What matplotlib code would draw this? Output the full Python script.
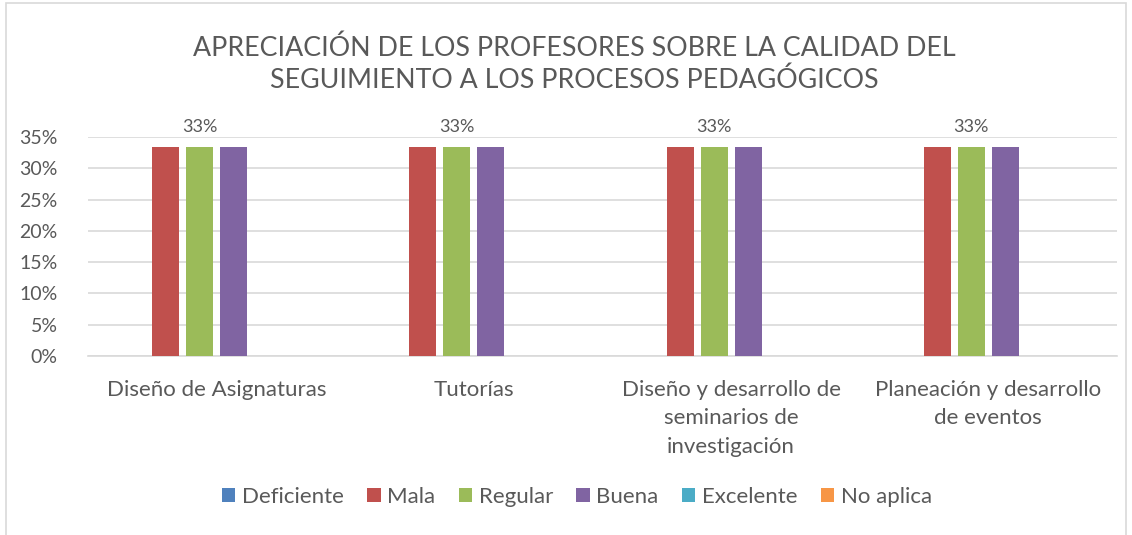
import matplotlib.pyplot as plt
import numpy as np
from matplotlib.patches import Rectangle

# datos
categorias = ["Diseño de Asignaturas", "Tutorías",
              "Diseño y desarrollo de\nseminarios de\ninvestigación",
              "Planeación y desarrollo\nde eventos"]
series = ["Deficiente", "Mala", "Regular", "Buena", "Excelente", "No aplica"]
deficiente = [0, 0, 0, 0]
mala = [1/3, 1/3, 1/3, 1/3]
regular = [1/3, 1/3, 1/3, 1/3]
buena = [1/3, 1/3, 1/3, 1/3]
excelente = [0, 0, 0, 0]
no_aplica = [0, 0, 0, 0]
yticks = [0, 0.05, 0.10, 0.15, 0.20, 0.25, 0.30, 0.35]

valores = [deficiente, mala, regular, buena, excelente, no_aplica]
colores = ['#4F81BD', '#C0504D', '#9BBB59', '#8064A2', '#4BACC6', '#F79646']

plt.rcParams['font.family'] = ['Lato', 'DejaVu Sans']
gris = '#595959'

fig = plt.figure(figsize=(11.32, 5.35), dpi=100)
ax = fig.add_axes([88/1132, 1 - 356/535, 1029/1132, 219/535])

x = np.arange(len(categorias))
paso = 34 / 257
ancho = 27 / 257
for i, (nombre, vals) in enumerate(zip(series, valores)):
    pos = x + (i - 2.5) * paso
    ax.bar(pos, vals, width=ancho, color=colores[i], label=nombre, zorder=3)
    # etiqueta solo en la serie central
    if nombre == "Regular":
        for p, v in zip(pos, vals):
            ax.text(p, v + 0.02, f"{v:.0%}", ha='center', va='bottom',
                    fontsize=13, color=gris)

ax.set_xlim(-0.5, len(categorias) - 0.5)
ax.set_ylim(0, 0.35)
ax.set_yticks(yticks)
ax.set_yticklabels([f"{t:.0%}" for t in yticks])
ax.yaxis.grid(True, color='#D9D9D9', linewidth=1.2, zorder=0)
ax.set_xticks(x)
ax.set_xticklabels(categorias, linespacing=1.55)
ax.tick_params(axis='y', length=0, labelsize=14, colors=gris, pad=22)
ax.tick_params(axis='x', length=0, labelsize=16, colors=gris, pad=17)
for s in ['top', 'right', 'left']:
    ax.spines[s].set_visible(False)
ax.spines['bottom'].set_color('#D9D9D9')
ax.spines['bottom'].set_linewidth(1.2)

fig.text(574 / 1132, 1 - 64 / 535,
         "APRECIACIÓN DE LOS PROFESORES SOBRE LA CALIDAD DEL\nSEGUIMIENTO A LOS PROCESOS PEDAGÓGICOS",
         ha='center', va='center', fontsize=19.3, color=gris, linespacing=1.3)

leg = fig.legend(loc='center', bbox_to_anchor=(577 / 1132, 1 - 497 / 535), ncol=6,
                 frameon=False, fontsize=16, handlelength=0.6, handleheight=0.6,
                 handletextpad=0.3, columnspacing=1.05)
for t in leg.get_texts():
    t.set_color(gris)

# borde del gráfico
fig.patches.append(Rectangle((6 / 1132, -0.01), 1120 / 1132, 1 - 3 / 535 + 0.01,
                             transform=fig.transFigure, fill=False,
                             edgecolor='#D9D9D9', linewidth=1.2))

fig.savefig('out.png', dpi=100)
